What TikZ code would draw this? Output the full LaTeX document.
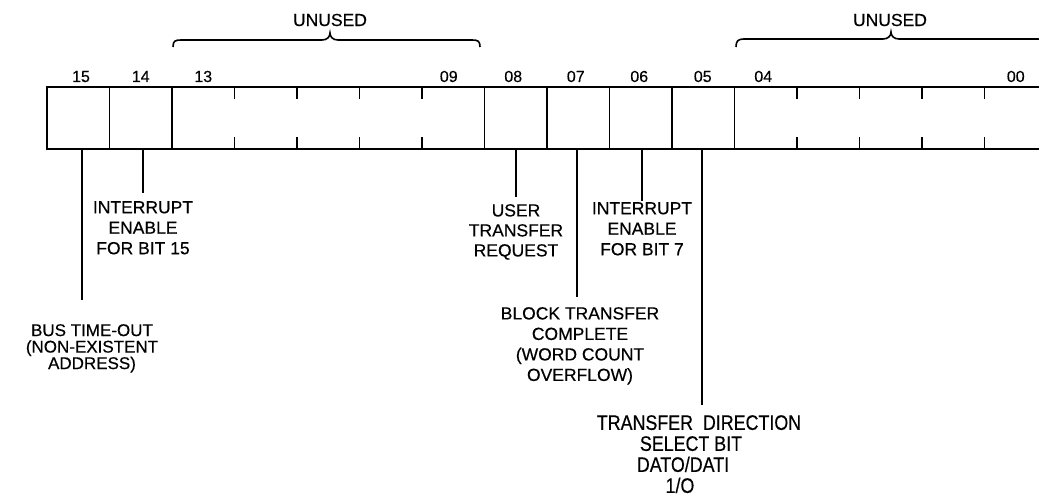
\documentclass[tikz,border=0pt]{standalone}
\usepackage{fontspec}
\setmainfont{Liberation Sans}[FakeBold=0.4]
\newfontfamily\condfont[FakeStretch=0.85,FakeBold=0.4]{Liberation Sans}
\begin{document}
\begin{tikzpicture}[x=1pt,y=-1pt,
  reg/.style={line width=1.8pt},
  conn/.style={line width=1.5pt},
  brc/.style={line width=1.6pt},
  cell/.style={minimum width=62.5pt, minimum height=62pt, inner sep=0pt, outer sep=0pt},
  bitnum/.style={inner sep=0pt, anchor=base, font=\fontsize{16}{16}\selectfont},
  unused/.style={inner sep=0pt, font=\fontsize{17.5}{17.5}\selectfont},
  lbl/.style={align=center, inner sep=0pt, anchor=north, font=\fontsize{17.5}{20.5}\selectfont}]
\useasboundingbox (0,0) rectangle (1039,500);
\clip (0,0) rectangle (1039,500);

% register cells
\foreach \b in {0,...,15}
  \node[cell] (b\b) at ({47+62.5*(15-\b)+31.25},118) {};

% outline, dividers and ticks
\draw[reg] (b15.north west) rectangle (b0.south east);
\foreach \b in {14,13,8,7,6,5,4}
  \draw[reg] (b\b.north west) -- (b\b.south west);
\foreach \b in {12,11,10,9,3,2,1,0} {
  \draw[reg] (b\b.north west) -- ++(0,12);
  \draw[reg] (b\b.south west) -- ++(0,-12);
}

% bit numbers
\node[bitnum] (n15) at (81,82) {15};
\node[bitnum] (n14) at (140.75,82) {14};
\node[bitnum] (n13) at (203.25,82) {13};
\node[bitnum] (n09) at (448.75,82) {09};
\node[bitnum] (n08) at (513.25,82) {08};
\node[bitnum] (n07) at (575.75,82) {07};
\node[bitnum] (n06) at (639.25,82) {06};
\node[bitnum] (n05) at (702.75,82) {05};
\node[bitnum] (n04) at (763.25,82) {04};
\node[bitnum] (n00) at (1015.75,82) {00};

% braces and UNUSED labels
\draw[brc] (173,47) .. controls (173,41) and (175,40) .. (181,40) -- (322,40)
  .. controls (327,40) and (330,37) .. (330,33)
  .. controls (330,37) and (333,40) .. (338,40) -- (472,40)
  .. controls (478,40) and (480,41) .. (480,47);
\draw[brc] (736,47) .. controls (736,41) and (738,39) .. (744,39) -- (883,39)
  .. controls (888,39) and (891,36) .. (891,32)
  .. controls (891,36) and (894,39) .. (899,39) -- (1038,39)
  .. controls (1044,39) and (1046,41) .. (1046,47);
\node[unused] (u1) at (330,20) {UNUSED};
\node[unused] (u2) at (890,20) {UNUSED};

% labels
\node[lbl, font=\fontsize{17}{16.5}\selectfont] (l15) at (92,324) {BUS TIME-OUT\\(NON-EXISTENT\\ADDRESS)};
\node[lbl] (l14) at (143,201) {INTERRUPT\\ENABLE\\FOR BIT 15};
\node[lbl, font=\fontsize{17.5}{20}\selectfont] (l08) at (516,204) {USER\\TRANSFER\\REQUEST};
\node[lbl] (l07) at (580,307) {BLOCK TRANSFER\\COMPLETE\\(WORD COUNT\\OVERFLOW)};
\node[lbl] (l06) at (642,202) {INTERRUPT\\ENABLE\\FOR BIT 7};
\node[lbl, font=\condfont\fontsize{21}{21}\selectfont] (l05) at (690,415)
  {\makebox[0pt]{\hspace*{18pt}TRANSFER\ \ DIRECTION}\\
   \makebox[0pt]{\hspace*{2pt}SELECT BIT}\\
   \makebox[0pt]{\hspace*{-14pt}DATO/DATI}\\
   \makebox[0pt]{\hspace*{-20pt}1/O}};

% connector ends
\coordinate (e15) at (82,300);
\coordinate (e14) at (143,193);
\coordinate (e08) at (516,197);
\coordinate (e07) at (577,297);
\coordinate (e06) at (642,201);
\coordinate (e05) at (702,405);

\draw[conn] (e15 |- b15.south) -- (e15);
\draw[conn] (e14 |- b14.south) -- (e14);
\draw[conn] (e08 |- b8.south) -- (e08);
\draw[conn] (e07 |- b7.south) -- (e07);
\draw[conn] (e06 |- b6.south) -- (e06);
\draw[conn] (e05 |- b5.south) -- (e05);
\end{tikzpicture}
\end{document}
